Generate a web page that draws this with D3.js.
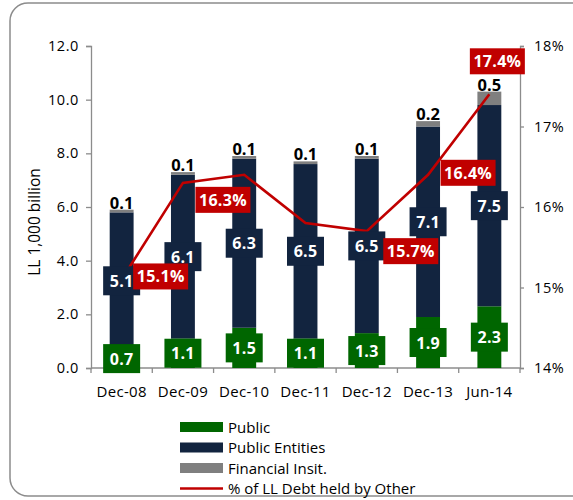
<!DOCTYPE html>
<html>
<head>
<meta charset="utf-8">
<script src="https://cdn.jsdelivr.net/npm/d3@7"></script>
<style>
  body { margin: 0; background: #fff; }
  text { font-family: "Open Sans", "DejaVu Sans", sans-serif; }
</style>
</head>
<body>
<div id="chart"></div>
<script>
// data
var categories = ["Dec-08", "Dec-09", "Dec-10", "Dec-11", "Dec-12", "Dec-13", "Jun-14"];
var publicVals = [0.7, 1.1, 1.5, 1.1, 1.3, 1.9, 2.3];
var entitiesVals = [5.1, 6.1, 6.3, 6.5, 6.5, 7.1, 7.5];
var finInstVals = [0.1, 0.1, 0.1, 0.1, 0.1, 0.2, 0.5];
var otherShare = [15.1, 16.3, 16.4, 15.8, 15.7, 16.4, 17.4];
var showShareLabel = [true, true, false, false, true, true, true];
var leftTicks = [0, 2, 4, 6, 8, 10, 12];
var rightTicks = [14, 15, 16, 17, 18];
var legendNames = ["Public", "Public Entities", "Financial Insit.", "% of LL Debt held by Other"];

var W = 573, H = 500;
var colPublic = "#006600", colEnt = "#12243f", colFin = "#7f7f7f", colLine = "#c00000";

var svg = d3.select("#chart").append("svg")
	.attr("width", W)
	.attr("height", H);

// frame with rounded corners, right side runs off the picture
svg.append("rect")
	.attr("x", 10).attr("y", 3)
	.attr("width", 600).attr("height", 493)
	.attr("rx", 18).attr("ry", 18)
	.attr("fill", "none")
	.attr("stroke", "#8c8c8c")
	.attr("stroke-width", 1.5);

// title, mostly cut off at the top
svg.append("text")
	.attr("x", 4).attr("y", -6)
	.style("font-size", "20px")
	.style("font-weight", "bold")
	.style("fill", "#00a000")
	.text("Holdings of LL Debt by Category");

//scales
var x = d3.scaleBand().domain(categories).range([91, 520]).padding(0);
var y = d3.scaleLinear().domain([0, 12]).range([368, 46]);
var yR = d3.scaleLinear().domain([14, 18]).range([368, 46]);
var barW = x.bandwidth() * 0.39;
var cx = function(d) { return x(d) + x.bandwidth() / 2; };

var axisCol = "#8c8c8c";
// left axis
var gl = svg.append("g")
	.attr("transform", "translate(91,0)")
	.call(d3.axisLeft(y).tickValues(leftTicks).tickSize(5).tickFormat(d3.format(".1f")));
// right axis
var gr = svg.append("g")
	.attr("transform", "translate(520,0)")
	.call(d3.axisRight(yR).tickValues(rightTicks).tickSize(4).tickFormat(function(d) { return d + "%"; }));
[gl, gr].forEach(function(g) {
	g.select(".domain").attr("stroke", axisCol).attr("stroke-width", 1.3);
	g.selectAll(".tick line").attr("stroke", axisCol).attr("stroke-width", 1.3);
	g.selectAll(".tick text")
		.style("font-size", "14.5px")
		.style("font-family", "Open Sans")
		.style("letter-spacing", "0.6px")
		.attr("fill", "#000");
});
gl.selectAll(".tick text").attr("x", -12);
gr.selectAll(".tick text").attr("x", 14);

// x axis with ticks on the category borders
var gx = svg.append("g").attr("transform", "translate(0,368)");
gx.append("line")
	.attr("x1", 91).attr("x2", 520)
	.attr("stroke", axisCol).attr("stroke-width", 1.3);
gx.selectAll(".xt")
	.data(categories.concat(["end"]))
	.enter().append("line")
	.attr("class", "xt")
	.attr("x1", function(d, i) { return i < categories.length ? x(d) : x.range()[1]; })
	.attr("x2", function(d, i) { return i < categories.length ? x(d) : x.range()[1]; })
	.attr("y1", 0).attr("y2", 5)
	.attr("stroke", axisCol).attr("stroke-width", 1.3);
gx.selectAll(".xl")
	.data(categories)
	.enter().append("text")
	.attr("class", "xl")
	.attr("x", cx)
	.attr("y", 29)
	.attr("text-anchor", "middle")
	.style("font-size", "15px")
	.style("letter-spacing", "0.3px")
	.text(function(d) { return d; });

// y title
svg.append("text")
	.attr("transform", "translate(40,222) rotate(-90)")
	.attr("text-anchor", "middle")
	.style("font-size", "15.5px")
	.text("LL 1,000 billion");

// stacked bars
var rows = categories.map(function(c, i) {
	return { cat: c, pub: publicVals[i], ent: entitiesVals[i], fin: finInstVals[i], share: otherShare[i], show: showShareLabel[i] };
});
var stack = d3.stack().keys(["pub", "ent", "fin"])(rows);
var colors = [colPublic, colEnt, colFin];

stack.forEach(function(layer, k) {
	svg.selectAll(".bar" + k)
		.data(layer)
		.enter()
		.append("rect")
		.attr("class", "bar" + k)
		.attr("x", function(d) { return cx(d.data.cat) - barW / 2; })
		.attr("y", function(d) { return y(d[1]); })
		.attr("width", barW)
		.attr("height", function(d) { return y(d[0]) - y(d[1]); })
		.attr("fill", colors[k]);
});

// line
var line = d3.line()
	.x(function(d) { return cx(d.cat); })
	.y(function(d) { return yR(d.share); });
svg.append("path")
	.datum(rows)
	.attr("d", line)
	.attr("fill", "none")
	.attr("stroke", colLine)
	.attr("stroke-width", 2.6);

// boxed labels
function boxLabel(px, py, txt, fill, w, h) {
	var g = svg.append("g").attr("transform", "translate(" + px + "," + py + ")");
	g.append("rect")
		.attr("x", -w / 2).attr("y", -h / 2)
		.attr("width", w).attr("height", h)
		.attr("fill", fill);
	g.append("text")
		.attr("y", 6)
		.attr("text-anchor", "middle")
		.style("font-size", "16px")
		.style("font-weight", "bold")
		.style("letter-spacing", "0.3px")
		.attr("fill", "#fff")
		.text(txt);
}

// public and public entities values sit in the middle of their segment
stack[0].forEach(function(d) {
	boxLabel(cx(d.data.cat), y((d[0] + d[1]) / 2), d3.format(".1f")(d.data.pub), colPublic, 37, 29);
});
stack[1].forEach(function(d) {
	boxLabel(cx(d.data.cat), y((d[0] + d[1]) / 2), d3.format(".1f")(d.data.ent), colEnt, 37, 29);
});
// financial institutions on top of each bar
svg.selectAll(".finl")
	.data(stack[2])
	.enter().append("text")
	.attr("class", "finl")
	.attr("x", function(d) { return cx(d.data.cat); })
	.attr("y", function(d) { return y(d[1]) - 1; })
	.attr("text-anchor", "middle")
	.style("font-size", "16.5px")
	.style("font-weight", "bold")
	.text(function(d) { return d3.format(".1f")(d.data.fin); });

// share labels, each moved by hand as in the original
var shareOffsets = [[39, -3], [40, 17], [0, 0], [0, 0], [44, 20], [40, -2], [8, -33]];
rows.forEach(function(d, i) {
	if (!d.show) return;
	boxLabel(cx(d.cat) + shareOffsets[i][0], yR(d.share) + shareOffsets[i][1], d3.format(".1f")(d.share) + "%", colLine, 55, 26);
});

// legend
var lg = svg.append("g").attr("transform", "translate(180,427)");
legendNames.forEach(function(name, i) {
	var row = lg.append("g").attr("transform", "translate(0," + (i * 20.5) + ")");
	if (i < 3) {
		row.append("rect")
			.attr("x", 0).attr("y", -5)
			.attr("width", 43).attr("height", 10)
			.attr("fill", colors[i]);
	} else {
		row.append("line")
			.attr("x1", 0).attr("x2", 43)
			.attr("stroke", colLine)
			.attr("stroke-width", 2.6);
	}
	row.append("text")
		.attr("x", 48).attr("y", 5.5)
		.style("font-size", "15px")
		.text(name);
});
</script>
</body>
</html>
